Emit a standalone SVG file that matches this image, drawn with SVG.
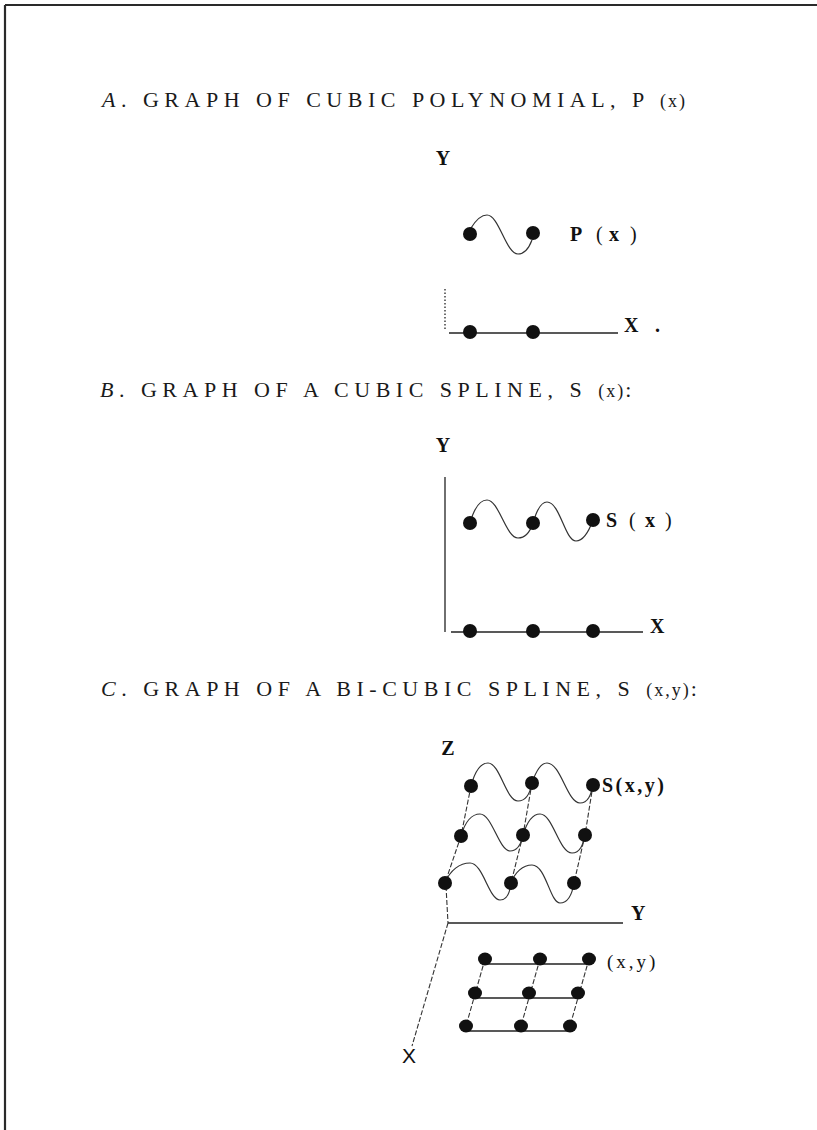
<svg xmlns="http://www.w3.org/2000/svg" width="817" height="1130" viewBox="0 0 817 1130">
<style>
.frame{stroke:#2a2a2a;stroke-width:2.2;fill:none}
.head{font-family:"Liberation Serif","Times New Roman",serif;font-size:22px;letter-spacing:5.5px;fill:#1a1a1a}
.lbl{font-family:"Liberation Serif","Times New Roman",serif;font-size:20px;font-weight:bold;fill:#111}
.lblr{font-family:"Liberation Serif","Times New Roman",serif;font-size:19px;fill:#111;letter-spacing:3px}
.axis{stroke:#222;stroke-width:1.3;fill:none}
.curve{stroke:#333;stroke-width:1.2;fill:none}
.dash{stroke:#333;stroke-width:1.1;fill:none;stroke-dasharray:5 2}
.dot{fill:#111}
</style>
<g id="frame">
<line class="frame" x1="5" y1="5" x2="817" y2="5"/>
<line class="frame" x1="5" y1="5" x2="5" y2="1130"/>
</g>
<g id="headings">
<text class="head" x="102" y="107"><tspan font-style="italic">A</tspan>. GRAPH OF CUBIC POLYNOMIAL, P <tspan font-size="18" letter-spacing="2">(x)</tspan></text>
<text class="head" x="100" y="397"><tspan font-style="italic">B</tspan>. GRAPH OF A CUBIC SPLINE, S <tspan font-size="18" letter-spacing="2">(x)</tspan>:</text>
<text class="head" x="101" y="696"><tspan font-style="italic">C</tspan>. GRAPH OF A BI-CUBIC SPLINE, S <tspan font-size="18" letter-spacing="2">(x,y)</tspan>:</text>
</g>
<g id="connectors">
<!-- A -->
<line class="axis" x1="445" y1="289" x2="445" y2="330" stroke-width="1.1" stroke-dasharray="1.5 2"/>
<line class="axis" x1="449" y1="333" x2="618" y2="333"/>
<path class="curve" d="M471,228 C476,220 481,215 487,215 C499,215 506,254 518,254 C525,254 529,248 532,240"/>
<!-- B -->
<line class="axis" x1="445" y1="477" x2="445" y2="632"/>
<line class="axis" x1="451" y1="632" x2="643" y2="632"/>
<path class="curve" d="M470,523 C474,509 480,500 487,500 C499,500 506,538 518,538 C526,538 530,532 533,523 C537,509 542,502 547,502 C560,502 565,541 576,541 C584,541 589,531 593,520"/>
<!-- C surface -->
<path class="curve" d="M471,786 C475,771 481,763 488,763 C500,763 506,801 518,801 C526,801 530,794 532,783 C536,771 541,763 547,763 C561,763 567,803 580,803 C588,803 591,795 593,785"/>
<path class="curve" d="M461,836 C465,822 472,814 480,814 C492,814 499,851 510,851 C517,851 521,845 523,835 C527,822 533,814 540,814 C553,814 559,853 572,853 C580,853 583,845 585,835"/>
<path class="curve" d="M445,883 C450,870 460,863 470,863 C483,863 489,900 500,900 C507,900 510,892 511,883 C515,872 523,865 532,865 C546,865 550,903 560,903 C568,903 572,895 574,883"/>
<line class="dash" x1="471" y1="786" x2="461" y2="836"/>
<line class="dash" x1="461" y1="836" x2="445" y2="883"/>
<line class="dash" x1="532" y1="783" x2="523" y2="835"/>
<line class="dash" x1="523" y1="835" x2="511" y2="883"/>
<line class="dash" x1="593" y1="785" x2="585" y2="835"/>
<line class="dash" x1="585" y1="835" x2="574" y2="883"/>
<line class="dash" x1="446" y1="886" x2="448" y2="923"/>
<line class="axis" x1="448" y1="923" x2="623" y2="923"/>
<line class="dash" x1="448" y1="923" x2="412" y2="1046" stroke-width="1" stroke-dasharray="6 2 1 2"/>
<!-- C grid -->
<line class="axis" x1="485" y1="964" x2="587" y2="964"/>
<line class="axis" x1="475" y1="998" x2="578" y2="998"/>
<line class="axis" x1="466" y1="1031" x2="570" y2="1031"/>
<line class="dash" x1="485" y1="959" x2="466" y2="1026"/>
<line class="dash" x1="540" y1="959" x2="521" y2="1026"/>
<line class="dash" x1="589" y1="959" x2="570" y2="1026"/>
</g>
<g id="graph-a">
<text class="lbl" x="443" y="165" text-anchor="middle">Y</text>
<circle class="dot" cx="470" cy="234" r="7"/>
<circle class="dot" cx="533" cy="233" r="7"/>
<text class="lbl" y="241"><tspan x="570">P</tspan><tspan x="596" font-weight="normal">(</tspan><tspan x="609">x</tspan><tspan x="630" font-weight="normal">)</tspan></text>
<circle class="dot" cx="470" cy="332" r="7"/>
<circle class="dot" cx="533" cy="332" r="7"/>
<text class="lbl" x="624" y="332">X</text>
<text class="lbl" x="655" y="332">.</text>
</g>
<g id="graph-b">
<text class="lbl" x="443" y="452" text-anchor="middle">Y</text>
<circle class="dot" cx="470" cy="523" r="7"/>
<circle class="dot" cx="533" cy="523" r="7"/>
<circle class="dot" cx="593" cy="520" r="7"/>
<text class="lbl" y="527"><tspan x="606">S</tspan><tspan x="629" font-weight="normal">(</tspan><tspan x="645">x</tspan><tspan x="665" font-weight="normal">)</tspan></text>
<circle class="dot" cx="470" cy="631" r="7"/>
<circle class="dot" cx="533" cy="631" r="7"/>
<circle class="dot" cx="593" cy="631" r="7"/>
<text class="lbl" x="650" y="633">X</text>
</g>
<g id="graph-c">
<text class="lbl" x="448" y="755" text-anchor="middle">Z</text>
<circle class="dot" cx="471" cy="786" r="7"/>
<circle class="dot" cx="532" cy="783" r="7"/>
<circle class="dot" cx="593" cy="785" r="7"/>
<text class="lbl" x="602" y="792" letter-spacing="2.5">S(x,y)</text>
<circle class="dot" cx="461" cy="836" r="7"/>
<circle class="dot" cx="523" cy="835" r="7"/>
<circle class="dot" cx="585" cy="835" r="7"/>
<circle class="dot" cx="445" cy="883" r="7"/>
<circle class="dot" cx="511" cy="883" r="7"/>
<circle class="dot" cx="574" cy="883" r="7"/>
<text class="lbl" x="631" y="920">Y</text>
<text x="409" y="1063" text-anchor="middle" font-family="Liberation Sans, Arial, sans-serif" font-size="21" fill="#111">X</text>
</g>
<g id="grid-c">
<ellipse class="dot" cx="485" cy="959" rx="7" ry="6.5"/>
<ellipse class="dot" cx="540" cy="959" rx="7" ry="6.5"/>
<ellipse class="dot" cx="589" cy="959" rx="7" ry="6.5"/>
<ellipse class="dot" cx="475" cy="993" rx="7" ry="6.5"/>
<ellipse class="dot" cx="529" cy="993" rx="7" ry="6.5"/>
<ellipse class="dot" cx="578" cy="993" rx="7" ry="6.5"/>
<ellipse class="dot" cx="466" cy="1026" rx="7" ry="6.5"/>
<ellipse class="dot" cx="521" cy="1026" rx="7" ry="6.5"/>
<ellipse class="dot" cx="570" cy="1026" rx="7" ry="6.5"/>
<text class="lblr" x="607" y="968">(x,y)</text>
</g>
</svg>
